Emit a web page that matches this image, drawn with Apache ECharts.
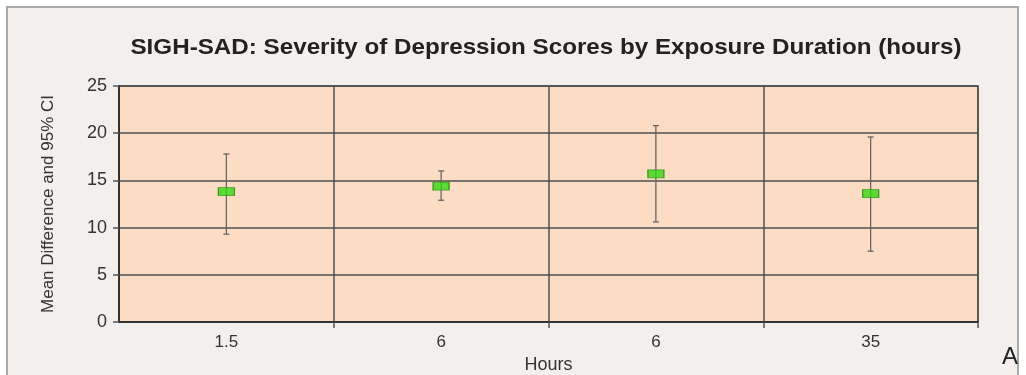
<!DOCTYPE html>
<html>
<head>
<meta charset="utf-8">
<script src="https://cdn.jsdelivr.net/npm/echarts@6/dist/echarts.min.js"></script>
<style>
  html, body { margin: 0; padding: 0; background: #ffffff; }
  #chart { width: 1026px; height: 375px; }
</style>
</head>
<body>
<div id="chart"></div>
<script>
// Exposure duration groups (hours) and SIGH-SAD mean differences with 95% CI
const categories = ['1.5', '6', '6', '35'];
const means = [13.8, 14.4, 15.7, 13.6];
const lowerCI = [9.3, 12.9, 10.6, 7.5];
const upperCI = [17.8, 16.0, 20.8, 19.6];
const yTicks = [0, 5, 10, 15, 20, 25];

const FONT = '"Liberation Sans", Arial, sans-serif';
const chart = echarts.init(document.getElementById('chart'));

const errorData = categories.map((c, i) => [i, lowerCI[i], upperCI[i]]);
const meanData = categories.map((c, i) => [i, means[i]]);

const option = {
  backgroundColor: '#ffffff',
  animation: false,
  graphic: [
    {
      type: 'rect',
      z: -10,
      shape: { x: 7, y: 7, width: 1011, height: 380 },
      style: { fill: '#f3efec', stroke: '#a9a9a9', lineWidth: 2 }
    },
    {
      type: 'text',
      x: 546,
      y: 48,
      scaleX: 1.1,
      style: {
        text: 'SIGH-SAD: Severity of Depression Scores by Exposure Duration (hours)',
        align: 'center',
        verticalAlign: 'middle',
        fill: '#222',
        font: 'bold 22px ' + FONT
      }
    },
    {
      type: 'text',
      x: 1010,
      y: 357,
      style: { text: 'A', align: 'center', verticalAlign: 'middle', fill: '#222', font: '24px ' + FONT }
    }
  ],
  grid: {
    left: 119, right: 48, top: 86, bottom: 53,
    outerBoundsMode: 'none',
    show: true,
    backgroundColor: '#fcdcc3',
    borderColor: '#454545',
    borderWidth: 1.5
  },
  xAxis: {
    type: 'category',
    data: categories,
    boundaryGap: true,
    name: 'Hours',
    nameLocation: 'middle',
    nameGap: 23,
    nameTextStyle: { fontFamily: FONT, fontSize: 18, color: '#333' },
    axisLine: { lineStyle: { color: '#333', width: 2 } },
    axisTick: {
      show: true, length: 6,
      interval: function (index) { return index > 0; },
      lineStyle: { color: '#555', width: 1.5 }
    },
    axisLabel: { fontFamily: FONT, fontSize: 17, color: '#333', margin: 12 },
    splitLine: { show: true, lineStyle: { color: '#505050', width: 1.5 } }
  },
  yAxis: {
    type: 'value',
    min: yTicks[0],
    max: yTicks[yTicks.length - 1],
    interval: 5,
    name: 'Mean Difference and 95% CI',
    nameLocation: 'middle',
    nameGap: 62,
    nameTextStyle: { fontFamily: FONT, fontSize: 17, color: '#333' },
    axisLine: { show: true, lineStyle: { color: '#333', width: 2 } },
    axisTick: { show: true, length: 6, lineStyle: { color: '#555', width: 1.5 } },
    axisLabel: { fontFamily: FONT, fontSize: 18, color: '#333', margin: 12 },
    splitLine: { show: true, lineStyle: { color: '#505050', width: 1.5 } }
  },
  series: [
    {
      type: 'custom',
      name: '95% CI',
      data: errorData,
      z: 3,
      renderItem: function (params, api) {
        const x = api.value(0);
        const lo = api.coord([x, api.value(1)]);
        const hi = api.coord([x, api.value(2)]);
        const cap = 3;
        const style = { stroke: '#666', lineWidth: 1.3 };
        return {
          type: 'group',
          children: [
            { type: 'line', shape: { x1: lo[0], y1: lo[1], x2: hi[0], y2: hi[1] }, style: style },
            { type: 'line', shape: { x1: lo[0] - cap, y1: lo[1], x2: lo[0] + cap, y2: lo[1] }, style: style },
            { type: 'line', shape: { x1: hi[0] - cap, y1: hi[1], x2: hi[0] + cap, y2: hi[1] }, style: style }
          ]
        };
      }
    },
    {
      type: 'scatter',
      name: 'Mean',
      data: meanData,
      symbol: 'rect',
      symbolSize: [16, 8],
      z: 4,
      itemStyle: { color: '#34d812', borderColor: '#2a8a10', borderWidth: 1 }
    }
  ]
};

chart.setOption(option);
</script>
</body>
</html>
